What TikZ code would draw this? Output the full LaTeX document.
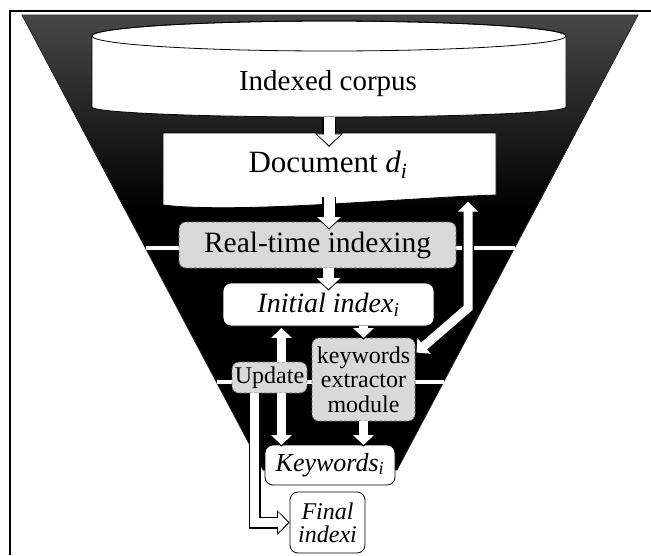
\documentclass[tikz,border=0pt]{standalone}
\usepackage{fontspec}
\setmainfont{Liberation Serif}
\usetikzlibrary{arrows.meta}

\begin{document}
\begin{tikzpicture}[x = 1pt, y = -1pt,
		graybox/.style = {draw = black!60, dash pattern = on 3pt off 2pt, fill = black!15, rounded corners = 7pt, inner sep = 0pt, line width = 0.8pt},
		whitebox/.style = {draw = black, fill = white, rounded corners = 8pt, inner sep = 0pt, line width = 0.8pt},
		bigarrow/.style = {draw = white, line width = 11pt, -{Triangle[length = 11pt, width = 23pt]}, shorten > = 1.5pt,
			preaction = {draw = black, line width = 14pt, -{Triangle[length = 13.5pt, width = 27pt]}, shorten > = 0pt}},
		smallarrow/.style = {draw = white, line width = 9pt, -{Triangle[length = 10pt, width = 20pt]}, shorten > = 1.5pt,
			preaction = {draw = black, line width = 12pt, -{Triangle[length = 12.5pt, width = 24pt]}, shorten > = 0pt}},
		twoway/.style = {draw = white, line width = 9pt, {Triangle[length = 10pt, width = 20pt]}-{Triangle[length = 10pt, width = 20pt]}, shorten > = 1.5pt, shorten < = 1.5pt,
			preaction = {draw = black, line width = 12pt, {Triangle[length = 12.5pt, width = 24pt]}-{Triangle[length = 12.5pt, width = 24pt]}, shorten > = 0pt, shorten < = 0pt}},
		]

	\useasboundingbox (0, 0) rectangle (651, 555);

	% Frame
	\draw[line width = 2.5pt] (10, 555) -- (10, 11) -- (651, 11);

	% Funnel
	\fill[black] (22, 15) -- (638, 15) -- (397, 470) -- (263, 470) -- cycle;
	\shade[top color = black!72, bottom color = black] (22, 15) -- (638, 15) -- (535, 210) -- (125, 210) -- cycle;
	\draw[black!85, line width = 0.8pt] (22, 15) -- (638, 15) -- (397, 470) -- (263, 470) -- cycle;

	% Level lines
	\draw[white, line width = 4pt] (145.5, 248) -- (514.5, 248);
	\draw[white, line width = 4pt] (216.5, 382) -- (443.5, 382);

	% Indexed corpus
	\filldraw[fill = white, line width = 0.8pt] (92, 36) -- (92, 107) arc[start angle = 180, end angle = 360, x radius = 237pt, y radius = 10pt] -- (566, 36) arc[start angle = 0, end angle = 180, x radius = 237pt, y radius = 15pt] -- cycle;
	\draw[line width = 0.8pt] (329, 36) ellipse[x radius = 237pt, y radius = 15pt];
	\node[font = \fontsize{29}{31}\selectfont] (corpus) at (328, 84) {Indexed corpus};
	\coordinate (corpusBottom) at (329, 117);

	% Document
	\filldraw[fill = white, line width = 0.8pt] (163, 133) -- (496, 133) -- (496, 195) .. controls (400, 198) and (240, 214) .. (163, 205) -- cycle;
	\node[minimum width = 333pt, minimum height = 64pt, inner sep = 0pt, font = \fontsize{31}{33}\selectfont] (doc) at (328, 165) {Document \textit{d}\textsubscript{\textit{i}}};

	% Boxes
	\node[graybox, minimum width = 277pt, minimum height = 46pt, font = \fontsize{29.5}{31}\selectfont] (rt) at (317.5, 245) {Real-time indexing};
	\node[whitebox, minimum width = 211pt, minimum height = 43pt, font = \fontsize{28}{30}\selectfont\itshape] (init) at (328.5, 304.5) {Initial index\textsubscript{i}};
	\node[graybox, minimum width = 103pt, minimum height = 83pt, align = center, font = \fontsize{24}{24.5}\selectfont] (keys) at (363.5, 379.5) {keywords\\extractor\\module};
	\node[graybox, minimum width = 75pt, minimum height = 31pt, font = \fontsize{24}{26}\selectfont] (upd) at (269.5, 377.5) {Update};
	\node[whitebox, minimum width = 130pt, minimum height = 40pt, font = \fontsize{26}{28}\selectfont\itshape] (kwi) at (330, 465) {Keywords\textsubscript{i}};
	\node[whitebox, minimum width = 75pt, minimum height = 61pt, align = center, font = \fontsize{24}{23}\selectfont\itshape] (fin) at (327.5, 522.5) {Final\\indexi};

	% Arrows
	\coordinate (kbend) at (468, 308);
	\draw[bigarrow] (corpusBottom) -- ([yshift = -14pt]corpusBottom |- doc.north);
	\draw[bigarrow] (doc.south -| corpusBottom) -- ([yshift = -8pt]corpusBottom |- rt.north);
	\draw[bigarrow] (rt.south -| init.north) -- ([yshift = -8pt]init.north);
	\draw[smallarrow] (keys.north |- init.south) -- ([yshift = -2pt]keys.north);
	\draw[smallarrow] (keys.south) -- ([yshift = -2pt]keys.south |- kwi.north);
	\draw[smallarrow] ([xshift = 12pt]upd.north) -- ([xshift = 12pt]upd.north |- init.south);
	\draw[smallarrow] ([xshift = 12pt]upd.south) -- ([xshift = 12pt, yshift = -2pt]upd.south |- kwi.north);
	\draw[twoway] ([yshift = -3pt]doc.south -| kbend) -- (kbend) -- ([yshift = 26pt]keys.east);
	\draw[smallarrow] ([xshift = -15pt]upd.south) |- (fin.west);

\end{tikzpicture}
\end{document}
